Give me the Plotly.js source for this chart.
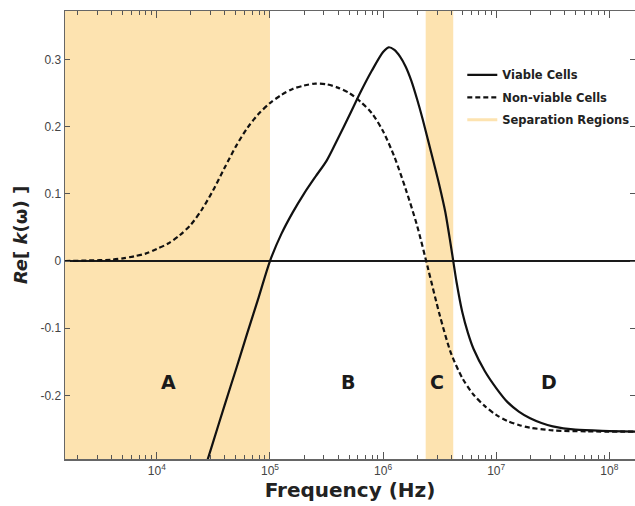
<!DOCTYPE html>
<html>
<head>
<meta charset="utf-8">
<script src="https://cdn.plot.ly/plotly-3.0.1.min.js"></script>
<style>html,body{margin:0;padding:0;background:#fff;}#chart{width:635px;height:506px;}</style>
</head>
<body>
<div id="chart"></div>
<script>
// Non-viable cells (dashed)
const nonViableFreq = [1549, 2512, 3981, 5012, 6310, 7943, 1.0e4, 12590, 15850, 19950, 25120, 31620, 39810, 50120, 63100, 79430, 1.0e5, 125900, 158500, 199500, 251200, 316200, 398100, 501200, 631000, 794300, 1.0e6, 1.259e6, 1.585e6, 1.995e6, 2.512e6, 3.162e6, 3.981e6, 5.012e6, 6.31e6, 7.943e6, 1.0e7, 1.259e7, 1.585e7, 1.995e7, 3.162e7, 6.31e7, 1.7e8];
const nonViableRe = [0, 0.0008, 0.002, 0.004, 0.007, 0.011, 0.018, 0.026, 0.038, 0.054, 0.077, 0.106, 0.139, 0.171, 0.198, 0.219, 0.235, 0.247, 0.256, 0.261, 0.264, 0.263, 0.258, 0.250, 0.237, 0.220, 0.193, 0.155, 0.107, 0.053, -0.013, -0.080, -0.137, -0.174, -0.199, -0.216, -0.229, -0.238, -0.244, -0.248, -0.252, -0.2535, -0.254];

// Viable cells (solid)
const viableFreq = [25120, 31620, 39810, 50120, 63100, 79430, 1.0e5, 125900, 158500, 199500, 251200, 316200, 398100, 501200, 631000, 794300, 1.0e6, 1.122e6, 1.259e6, 1.413e6, 1.585e6, 1.778e6, 1.995e6, 2.239e6, 2.512e6, 2.818e6, 3.162e6, 3.548e6, 3.981e6, 4.467e6, 5.012e6, 5.623e6, 6.31e6, 7.943e6, 1.0e7, 1.259e7, 1.585e7, 1.995e7, 2.512e7, 3.162e7, 5.012e7, 1.0e8, 1.7e8];
const viableRe = [-0.322, -0.268, -0.214, -0.161, -0.107, -0.054, 0, 0.040, 0.072, 0.100, 0.125, 0.149, 0.182, 0.216, 0.251, 0.283, 0.311, 0.318, 0.314, 0.304, 0.289, 0.268, 0.241, 0.211, 0.178, 0.145, 0.111, 0.073, 0.022, -0.032, -0.076, -0.107, -0.131, -0.164, -0.189, -0.210, -0.224, -0.234, -0.241, -0.246, -0.251, -0.253, -0.254];

// Separation regions (start / end frequency, Hz)
const regionStart = [1000, 2.38e6];
const regionEnd = [1.0e5, 4.17e6];

// Region labels
const regionLabels = ['A', 'B', 'C', 'D'];
const regionLabelFreq = [12800, 490000, 3.0e6, 2.9e7];
const regionLabelRe = [-0.18, -0.18, -0.18, -0.18];

// Ticks
const xTickVals = [1e4, 1e5, 1e6, 1e7, 1e8];
const xTickText = ['10<sup>4</sup>', '10<sup>5</sup>', '10<sup>6</sup>', '10<sup>7</sup>', '10<sup>8</sup>'];
const yTickVals = [-0.2, -0.1, 0, 0.1, 0.2, 0.3];
const yTickText = ['-0.2', '-0.1', '0', '0.1', '0.2', '0.3'];

// minor log ticks (2..9 x 10^n)
const minorTickVals = [];
for (let d = 3; d <= 8; d++) for (let m = 2; m <= 9; m++) minorTickVals.push(m * Math.pow(10, d));

const shade = 'rgb(253,227,176)';
const xRange = [3.188, 8.227];

const traces = [
  {x: viableFreq, y: viableRe, type: 'scatter', mode: 'lines', name: 'Viable Cells', legendgroup: 'g1',
   line: {color: '#111', width: 2.2, shape: 'spline', smoothing: 0.8}},
  {x: nonViableFreq, y: nonViableRe, type: 'scatter', mode: 'lines', name: 'Non-viable Cells', legendgroup: 'g2',
   line: {color: '#111', width: 2.2, dash: '5px,3px', shape: 'spline', smoothing: 0.8}},
  {x: [null], y: [null], type: 'scatter', mode: 'lines', name: 'Separation Regions', legendgroup: 'g3',
   line: {color: shade, width: 3}}
];

const shapes = regionStart.map((s, i) => ({
  type: 'rect', xref: 'x', yref: 'paper', x0: s, x1: regionEnd[i], y0: 0, y1: 1,
  fillcolor: shade, line: {width: 0}, layer: 'below'
}));

const annotations = regionLabels.map((t, i) => ({
  x: Math.log10(regionLabelFreq[i]), y: regionLabelRe[i], xref: 'x', yref: 'y',
  text: '<b>' + t + '</b>', showarrow: false,
  font: {family: 'DejaVu Sans', size: 19, color: '#1a1a1a'}
}));

const layout = {
  width: 635, height: 506,
  margin: {l: 65, r: 0, t: 11, b: 47},
  paper_bgcolor: '#fff', plot_bgcolor: 'rgba(0,0,0,0)',
  showlegend: true,
  legend: {x: 0.697, y: 0.89, xanchor: 'left', yanchor: 'top', bgcolor: 'rgba(0,0,0,0)',
    traceorder: 'grouped', tracegroupgap: 3.5,
    font: {family: 'DejaVu Sans', size: 11.5, color: '#222', weight: 'bold'}},
  xaxis: {
    type: 'log', range: xRange,
    tickmode: 'array', tickvals: xTickVals, ticktext: xTickText,
    ticks: 'inside', ticklen: 7, tickwidth: 1, tickcolor: '#555',
    minor: {tickmode: 'array', tickvals: minorTickVals, ticks: 'inside', ticklen: 4, tickwidth: 1, tickcolor: '#555', showgrid: false},
    showgrid: false, zeroline: false,
    showline: true, linecolor: '#666', linewidth: 1.5, mirror: 'ticks',
    tickfont: {family: 'Liberation Sans', size: 12, color: '#444'},
    title: {text: '<b>Frequency (Hz)</b>', standoff: 4,
      font: {family: 'DejaVu Sans', size: 20, color: '#222'}}
  },
  yaxis: {
    range: [-0.2946, 0.372],
    tickvals: yTickVals, ticktext: yTickText,
    ticks: 'inside', ticklen: 5, tickwidth: 1, tickcolor: '#555',
    showgrid: false,
    zeroline: true, zerolinecolor: '#1a1a1a', zerolinewidth: 2,
    showline: true, linecolor: '#666', linewidth: 1.5, mirror: 'ticks',
    tickfont: {family: 'Liberation Sans', size: 12, color: '#444'},
    title: {text: '<b><i>Re</i>[ <i>k</i>(ω) ]</b>', standoff: 8,
      font: {family: 'DejaVu Sans', size: 18, color: '#222'}}
  },
  shapes: shapes,
  annotations: annotations
};

Plotly.newPlot('chart', traces, layout, {displayModeBar: false, staticPlot: true});
</script>
</body>
</html>
